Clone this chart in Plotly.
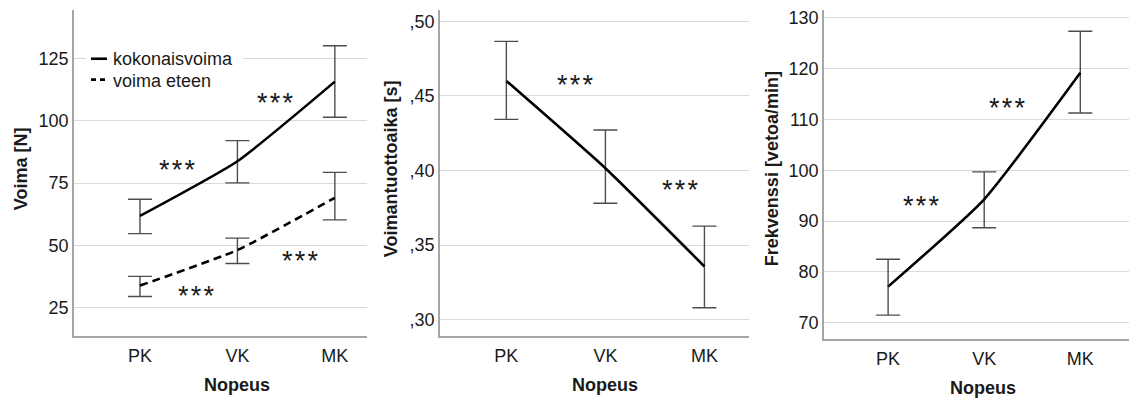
import plotly.graph_objects as go

# ---------------- data ----------------
categories = ["PK", "VK", "MK"]

# Panel 1: Voima [N]
koko_mean = [61.8, 83.8, 115.8]
koko_hi = [68.5, 92.1, 130.2]
koko_lo = [54.7, 75.1, 101.5]
eteen_mean = [33.8, 48.1, 69.1]
eteen_hi = [37.5, 52.9, 79.3]
eteen_lo = [29.4, 42.7, 60.2]

# Panel 2: Voimantuottoaika [s]
aika_mean = [0.460, 0.4015, 0.3357]
aika_hi = [0.4865, 0.4271, 0.3627]
aika_lo = [0.4342, 0.3780, 0.3080]

# Panel 3: Frekvenssi [vetoa/min]
frek_mean = [77.1, 94.3, 119.2]
frek_hi = [82.5, 99.7, 127.4]
frek_lo = [71.5, 88.7, 111.3]

# tick labels
ticks1 = [25, 50, 75, 100, 125]
ticks2 = [0.30, 0.35, 0.40, 0.45, 0.50]
ticks2_text = [",30", ",35", ",40", ",45", ",50"]
ticks3 = [70, 80, 90, 100, 110, 120, 130]

series_names = ["kokonaisvoima", "voima eteen"]

# significance markers (x as category index, y in data units)
sig1 = [(0.39, 83.0), (1.39, 110.2), (0.58, 32.6), (1.65, 46.6)]
sig2 = [(0.70, 0.462), (1.76, 0.3917)]
sig3 = [(0.35, 94.3), (1.24, 113.7)]

FONT = "Arial, 'Liberation Sans', sans-serif"
TXT = "#1a1a1a"
ERR = "#4d4d4d"
DASH = "8px,5px"

# The page body adds an 8px margin, so the figure is drawn 8px in from the window corner.
OFF = 8
W, H = 1137 - OFF, 400 - OFF


def err(mean, hi, lo):
    return dict(type="data", symmetric=False,
                array=[h - m for h, m in zip(hi, mean)],
                arrayminus=[m - l for m, l in zip(mean, lo)],
                color=ERR, thickness=1.4, width=12)


xs = list(range(len(categories)))
fig = go.Figure()

line_style = dict(color="black", width=2.6, shape="spline", smoothing=0.5)
fig.add_trace(go.Scatter(x=xs, y=koko_mean, mode="lines", name=series_names[0], showlegend=False,
                         line=line_style, error_y=err(koko_mean, koko_hi, koko_lo), xaxis="x", yaxis="y"))
fig.add_trace(go.Scatter(x=xs, y=eteen_mean, mode="lines", name=series_names[1], showlegend=False,
                         line=dict(line_style, dash=DASH),
                         error_y=err(eteen_mean, eteen_hi, eteen_lo), xaxis="x", yaxis="y"))
fig.add_trace(go.Scatter(x=xs, y=aika_mean, mode="lines", showlegend=False, line=line_style,
                         error_y=err(aika_mean, aika_hi, aika_lo), xaxis="x2", yaxis="y2"))
fig.add_trace(go.Scatter(x=xs, y=frek_mean, mode="lines", showlegend=False, line=line_style,
                         error_y=err(frek_mean, frek_hi, frek_lo), xaxis="x3", yaxis="y3"))


def px_x(a, b):
    return [(a - OFF) / W, (b - OFF) / W]


def px_y(top, bottom):
    return [1 - (bottom - OFF) / H, min(1.0, 1 - (top - OFF) / H)]


def fx(p):
    return (p - OFF) / W


def fy(p):
    return 1 - (p - OFF) / H


common_x = dict(tickmode="array", tickvals=xs, ticktext=categories, showgrid=False,
                showline=True, linecolor="#a6a6a6", linewidth=1.5, zeroline=False,
                ticks="outside", ticklen=2, tickcolor="rgba(0,0,0,0)",
                tickfont=dict(family=FONT, size=18, color=TXT), fixedrange=True)
common_y = dict(showgrid=True, gridcolor="#d9d9d9", gridwidth=1.3,
                showline=True, linecolor="#a6a6a6", linewidth=1.5, zeroline=False,
                ticks="", ticklabeloverflow="allow",
                tickfont=dict(family=FONT, size=18, color=TXT), fixedrange=True)

fig.update_layout(
    width=W, height=H, margin=dict(l=0, r=0, t=0, b=0),
    paper_bgcolor="white", plot_bgcolor="white",
    font=dict(family=FONT, color=TXT),
    showlegend=False,
    xaxis=dict(common_x, domain=px_x(74, 367), range=[-0.677, 2.33], anchor="y"),
    yaxis=dict(common_y, domain=px_y(8, 336), range=[13.4, 144.6], tickvals=ticks1, anchor="x"),
    xaxis2=dict(common_x, domain=px_x(440, 749), range=[-0.67, 2.45], anchor="y2"),
    yaxis2=dict(common_y, domain=px_y(8, 336), range=[0.2889, 0.5075], tickvals=ticks2,
                ticktext=ticks2_text, anchor="x2"),
    xaxis3=dict(common_x, domain=px_x(824, 1137), range=[-0.667, 2.59], anchor="y3"),
    yaxis3=dict(common_y, domain=px_y(8, 339), range=[66.73, 131.57], tickvals=ticks3, anchor="x3"),
)

# legend (drawn in the top-left corner of the first panel)
shapes = [
    dict(type="rect", xref="paper", yref="paper", x0=fx(86), x1=fx(243), y0=fy(92), y1=fy(42),
         fillcolor="white", line=dict(width=0), layer="above"),
    dict(type="line", xref="paper", yref="paper", x0=fx(91), x1=fx(107), y0=fy(57), y1=fy(57),
         line=dict(color="black", width=2.6), layer="above"),
    dict(type="line", xref="paper", yref="paper", x0=fx(91), x1=fx(108), y0=fy(78), y1=fy(78),
         line=dict(color="black", width=2.6, dash="5px,4px"), layer="above"),
]
ann = []
for name, py in zip(series_names, (57, 79)):
    ann.append(dict(x=fx(111), y=fy(py), xref="paper", yref="paper", text=name, xanchor="left",
                    yanchor="middle", showarrow=False, font=dict(family=FONT, size=18, color=TXT)))

for axn, pts in (("", sig1), ("2", sig2), ("3", sig3)):
    for (sx, sy) in pts:
        ann.append(dict(x=sx, y=sy, xref="x" + axn, yref="y" + axn, text="*\u200a*\u200a*",
                        xanchor="center", yanchor="middle", yshift=-7,
                        showarrow=False, font=dict(family=FONT, size=27, color=TXT)))

# axis titles
titles_y = [("Voima [N]", 21, 168), ("Voimantuottoaika [s]", 391, 168), ("Frekvenssi [vetoa/min]", 772, 168)]
for t, px, py in titles_y:
    ann.append(dict(x=fx(px), y=fy(py), xref="paper", yref="paper", text="<b>%s</b>" % t,
                    xanchor="center", yanchor="middle",
                    textangle=-90, showarrow=False, font=dict(family=FONT, size=18, color=TXT)))
for px, py in ((237, 385), (605, 385), (983, 388)):
    ann.append(dict(x=fx(px), y=fy(py), xref="paper", yref="paper", text="<b>Nopeus</b>",
                    xanchor="center", yanchor="middle",
                    showarrow=False, font=dict(family=FONT, size=18, color=TXT)))

fig.update_layout(annotations=ann, shapes=shapes)
fig.write_html("out.html")
